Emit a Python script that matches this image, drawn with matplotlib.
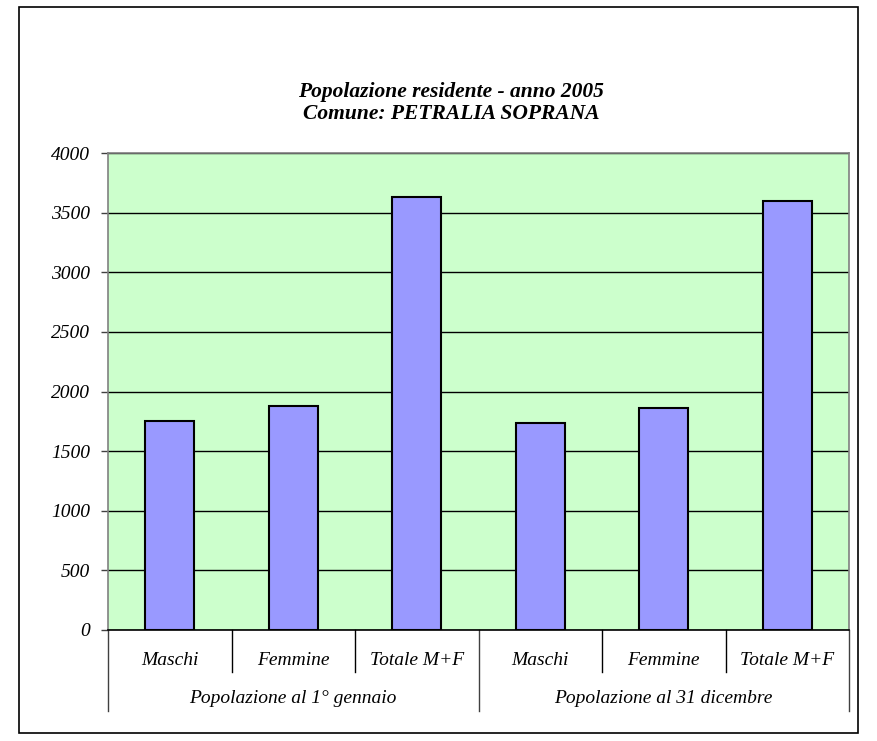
import matplotlib
matplotlib.use("Agg")
import matplotlib.pyplot as plt
from matplotlib.patches import Rectangle

categories = ["Maschi", "Femmine", "Totale M+F", "Maschi", "Femmine", "Totale M+F"]
groups = ["Popolazione al 1° gennaio", "Popolazione al 31 dicembre"]
values = [1756, 1875, 3631, 1737, 1864, 3601]
yticks = [0, 500, 1000, 1500, 2000, 2500, 3000, 3500, 4000]

plt.rcParams['font.family'] = ['Liberation Serif', 'DejaVu Serif']

fig = plt.figure(figsize=(8.77, 7.41), dpi=100)
ax = fig.add_axes([108 / 877, 111 / 741, 741 / 877, 477 / 741])
ax.set_facecolor("#CCFFCC")

x = list(range(len(categories)))
ax.bar(x, values, width=0.4, color="#9999FF", edgecolor="black", linewidth=1.5, zorder=3)

ax.set_xlim(-0.5, len(categories) - 0.5)
ax.set_ylim(0, 4000)
ax.set_yticks(yticks)
ax.set_yticklabels([str(v) for v in yticks], fontsize=14, fontstyle="italic")
ax.yaxis.grid(True, color="black", linewidth=1, zorder=1)
ax.tick_params(axis="y", direction="out", length=5, width=1, color="#404040", pad=8)
ax.set_xticks([])

for s in ["left", "right", "top"]:
    ax.spines[s].set_color("#808080")
    ax.spines[s].set_linewidth(1.2)
ax.spines["bottom"].set_color("black")
ax.spines["bottom"].set_linewidth(1.2)

# category labels and separators below the axis
trans = ax.get_xaxis_transform()
for i, c in enumerate(categories):
    ax.text(i, -0.063, c, transform=trans, ha="center", va="center",
            fontsize=14, fontstyle="italic")
for b in [0.5, 1.5, 3.5, 4.5]:
    ax.plot([b, b], [0, -0.088], transform=trans, color="black", linewidth=1, clip_on=False)
for b in [-0.5, 2.5, 5.5]:
    ax.plot([b, b], [0, -0.17], transform=trans, color="#404040", linewidth=1, clip_on=False)
for g, gx in zip(groups, [1, 4]):
    ax.text(gx, -0.143, g, transform=trans, ha="center", va="center",
            fontsize=14, fontstyle="italic")

fig.text(451 / 877, 1 - 92 / 741, "Popolazione residente - anno 2005", ha="center", va="center",
         fontsize=15.5, fontweight="bold", fontstyle="italic")
fig.text(451 / 877, 1 - 114 / 741, "Comune: PETRALIA SOPRANA", ha="center", va="center",
         fontsize=15.5, fontweight="bold", fontstyle="italic")

fig.patches.append(Rectangle((19 / 877, 8 / 741), 839 / 877, 726 / 741, transform=fig.transFigure,
                             fill=False, edgecolor="black", linewidth=1.2))

fig.savefig("out.png", dpi=100)
